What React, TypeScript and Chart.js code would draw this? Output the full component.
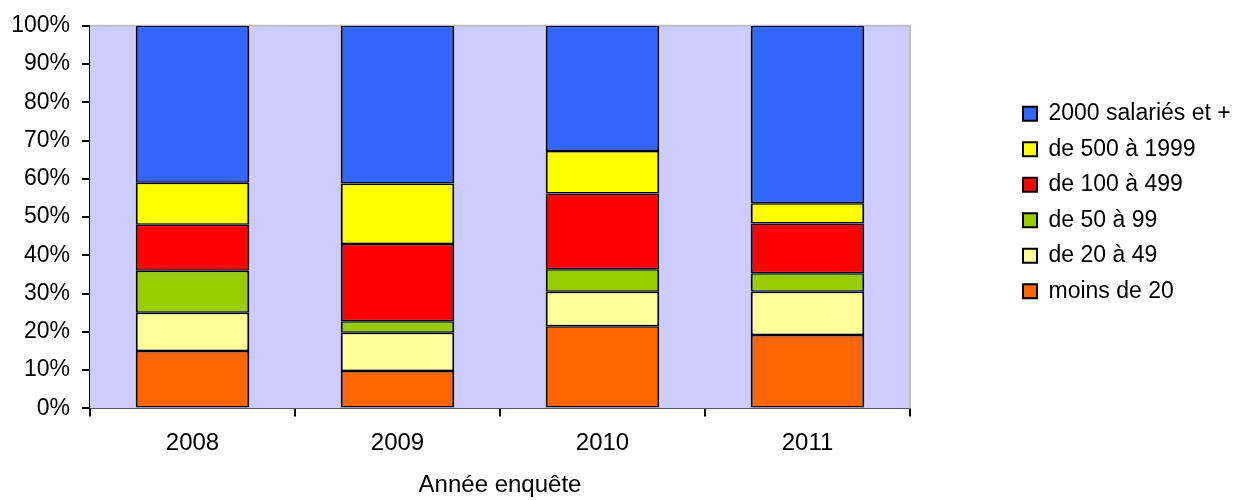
import React, { useEffect, useRef } from "react";
import { Chart, registerables } from "chart.js";

Chart.register(...registerables);

const categories = ["2008", "2009", "2010", "2011"];
const seriesNames = [
  "moins de 20",
  "de 20 à 49",
  "de 50 à 99",
  "de 100 à 499",
  "de 500 à 1999",
  "2000 salariés et +",
];
const moinsDe20 = [15, 9.8, 21.5, 19.2];
const de20a49 = [10, 10, 9, 11.3];
const de50a99 = [11, 3, 5.9, 4.8];
const de100a499 = [12, 20.2, 19.8, 13];
const de500a1999 = [11, 15.8, 11.1, 5.3];
const plus2000 = [41, 41.2, 32.7, 46.4];
const seriesColors = ["#FF6600", "#FFFF99", "#99CC00", "#FF0000", "#FFFF00", "#3366FF"];
const yTicks = [0, 10, 20, 30, 40, 50, 60, 70, 80, 90, 100];
const xTitle = "Année enquête";

const FONT = "'Liberation Sans', Arial, sans-serif";

const plotBg = {
  id: "plotBg",
  beforeDatasetsDraw(chart: any) {
    const { ctx, chartArea } = chart;
    if (!chartArea) return;
    ctx.save();
    ctx.fillStyle = "#CCCCFF";
    ctx.fillRect(chartArea.left, chartArea.top, chartArea.right - chartArea.left, chartArea.bottom - chartArea.top);
    ctx.strokeStyle = "#C0C0C0";
    ctx.lineWidth = 2;
    ctx.beginPath();
    ctx.moveTo(chartArea.left, chartArea.top);
    ctx.lineTo(chartArea.right, chartArea.top);
    ctx.lineTo(chartArea.right, chartArea.bottom);
    ctx.stroke();
    ctx.restore();
  },
};

export default function App() {
  const ref = useRef<HTMLCanvasElement | null>(null);
  useEffect(() => {
    if (!ref.current) return;
    const values = [moinsDe20, de20a49, de50a99, de100a499, de500a1999, plus2000];
    const defaultLabels = (Chart.defaults as any).plugins.legend.labels.generateLabels;
    const chart = new Chart(ref.current, {
      type: "bar",
      data: {
        labels: categories,
        datasets: seriesNames.map((name, i) => ({
          label: name,
          data: values[i],
          backgroundColor: seriesColors[i],
          borderColor: "#000000",
          borderWidth: { top: 1.5, bottom: 1.5, left: 2, right: 2 },
          borderSkipped: false,
          barPercentage: 0.554,
          categoryPercentage: 1,
        })),
      },
      plugins: [plotBg],
      options: {
        animation: false,
        responsive: false,
        devicePixelRatio: 1,
        layout: { padding: { top: 24, left: 0, right: 0, bottom: 0 } },
        plugins: {
          tooltip: { enabled: false },
          legend: {
            position: "right",
            align: "start",
            fullSize: false,
            reverse: true,
            maxWidth: 225.5,
            title: { display: true, text: " ", font: { size: 10, family: FONT }, padding: { top: 52, bottom: 0 } },
            labels: {
              boxWidth: 14,
              boxHeight: 14,
              padding: 12.5,
              color: "#000000",
              font: { size: 23, family: FONT },
              generateLabels: (c: any) =>
                defaultLabels(c).map((item: any) => ({ ...item, lineWidth: 2, strokeStyle: "#000000" })),
            },
          },
        },
        scales: {
          x: {
            stacked: true,
            offset: true,
            grid: {
              offset: true,
              drawOnChartArea: false,
              drawTicks: true,
              tickLength: 8,
              color: "#000000",
              lineWidth: 2,
            },
            border: { display: true, color: "#000000", width: 2 },
            ticks: { color: "#000000", font: { size: 24, family: FONT }, padding: 13 },
            title: {
              display: true,
              text: xTitle,
              color: "#000000",
              font: { size: 24, family: FONT },
              padding: { top: 0, bottom: 0 },
            },
          },
          y: {
            stacked: true,
            min: 0,
            max: 100,
            afterBuildTicks: (scale: any) => {
              scale.ticks = yTicks.map((v) => ({ value: v }));
            },
            afterFit: (scale: any) => {
              scale.width = 90;
            },
            grid: {
              drawOnChartArea: false,
              drawTicks: true,
              tickLength: 8,
              color: "#000000",
              lineWidth: 2,
            },
            border: { display: true, color: "#000000", width: 2 },
            ticks: {
              color: "#000000",
              font: { size: 23, family: FONT },
              padding: 12,
              callback: (v: any) => v + "%",
            },
          },
          y2: {
            position: "right",
            display: true,
            grid: { display: false, drawTicks: false },
            border: { display: false },
            ticks: { display: false },
            afterFit: (scale: any) => {
              scale.width = 100.5;
            },
          },
        },
      },
    } as any);
    return () => chart.destroy();
  }, []);
  return (
    <div style={{ position: "fixed", left: 0, top: 0, width: 1236, height: 500, background: "#FFFFFF" }}>
      <canvas ref={ref} width={1236} height={500} style={{ display: "block" }} />
    </div>
  );
}
